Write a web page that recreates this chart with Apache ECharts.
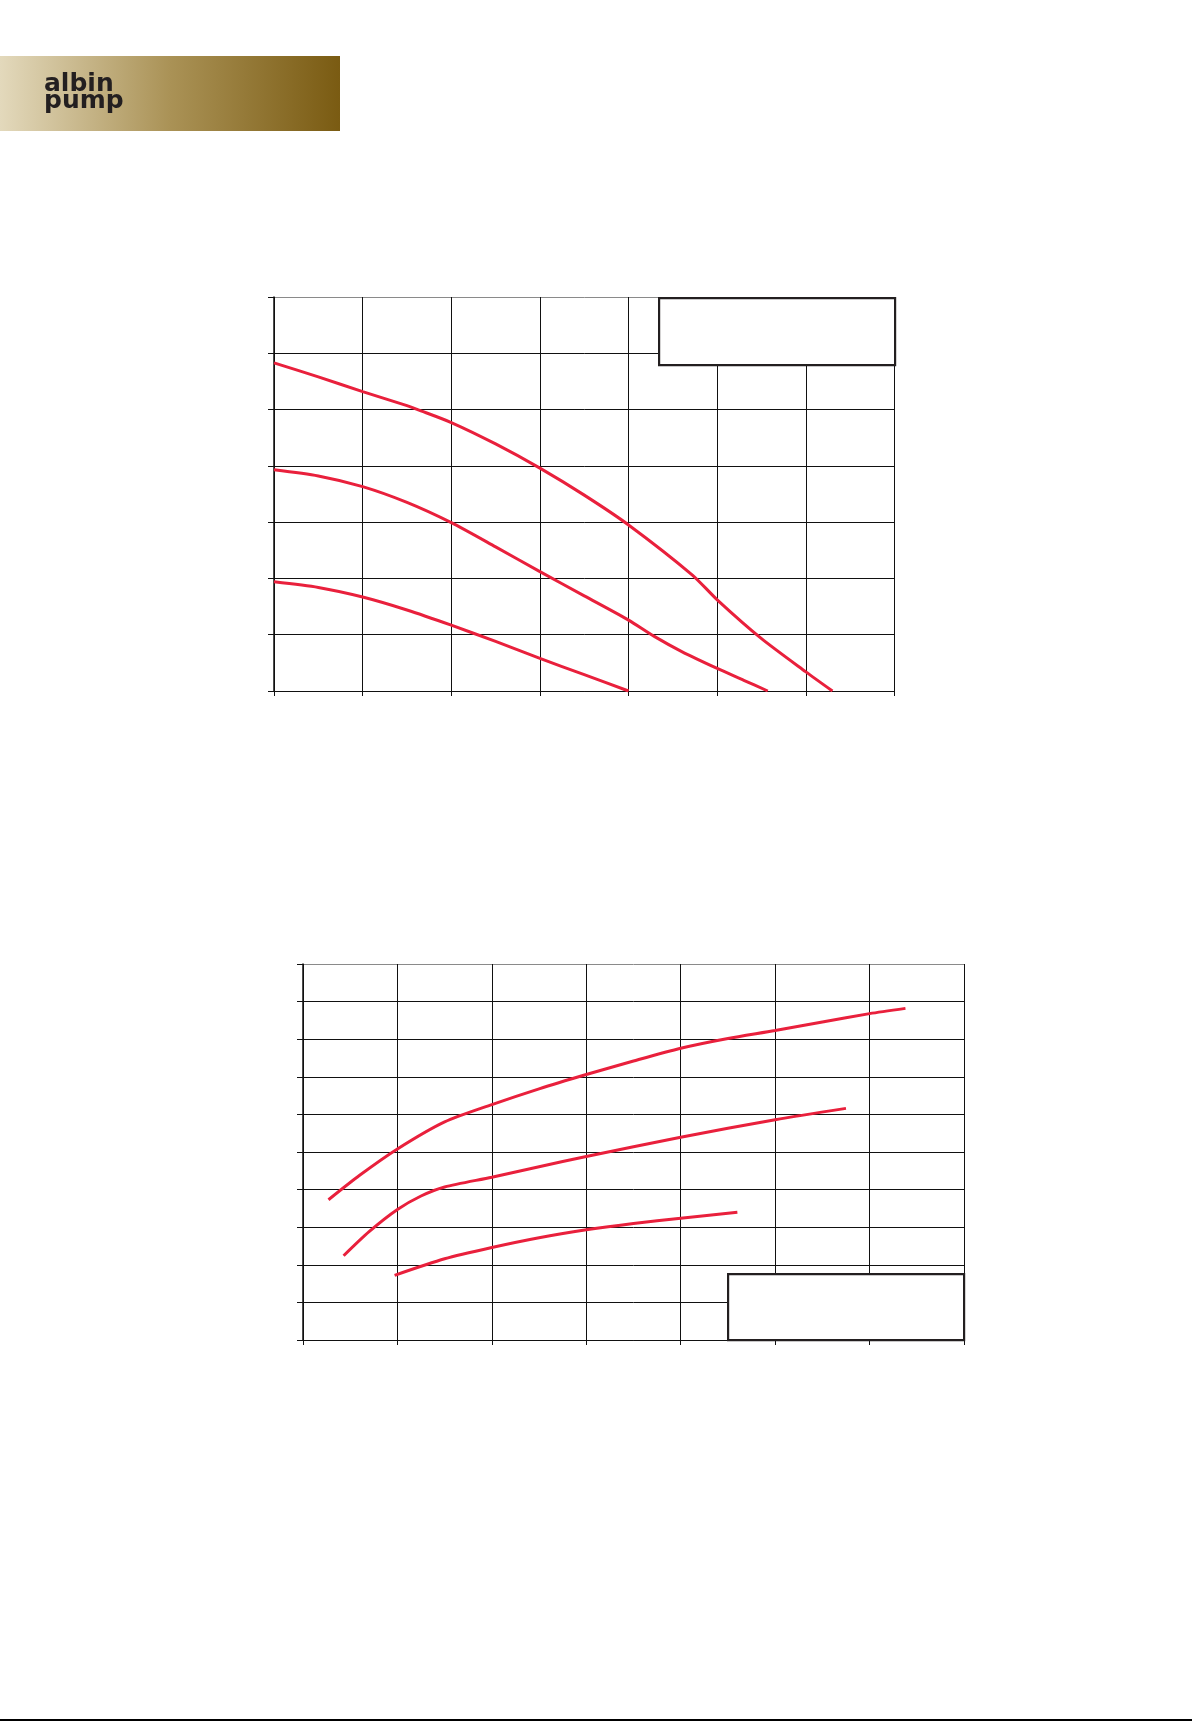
<!DOCTYPE html>
<html>
<head>
<meta charset="utf-8">
<style>
html,body{margin:0;padding:0;background:#fff;}
#chart{width:1192px;height:1721px;}
</style>
<script src="https://cdn.jsdelivr.net/npm/echarts@6/dist/echarts.min.js"></script>
</head>
<body>
<div id="chart"></div>
<script>
// ---- Data (grid units; axes carry no printed labels) ----
var xTicksTop = [0, 1, 2, 3, 4, 5, 6, 7];
var yTicksTop = [0, 1, 2, 3, 4, 5, 6, 7];
var xTicksBottom = [0, 1, 2, 3, 4, 5, 6, 7];
var yTicksBottom = [0, 1, 2, 3, 4, 5, 6, 7, 8, 9, 10];

// Upper chart: three falling curves
var topCurve1 = [[0,5.83],[0.5,5.58],[1,5.32],[1.5,5.07],[1.62,5.0],[2,4.77],[2.5,4.39],[3,3.96],[3.5,3.48],[4,2.95],[4.72,2.06],[5,1.62],[5.5,0.93],[6,0.34],[6.30,0]];
var topCurve2 = [[0,3.93],[0.5,3.82],[1,3.63],[1.5,3.35],[2,2.99],[2.5,2.56],[3,2.12],[3.5,1.69],[4,1.26],[4.29,0.97],[4.6,0.70],[5,0.40],[5.3,0.19],[5.57,0]];
var topCurve3 = [[0,1.94],[0.5,1.84],[1,1.67],[1.5,1.44],[2,1.17],[2.5,0.88],[3,0.58],[3.5,0.29],[4,0]];

// Lower chart: three rising curves
var bottomCurve1 = [[0.27,3.73],[0.6,4.38],[1,5.08],[1.5,5.80],[2,6.26],[2.5,6.68],[3,7.06],[3.5,7.42],[4,7.76],[4.5,8.02],[5,8.23],[5.5,8.46],[6,8.68],[6.38,8.82]];
var bottomCurve2 = [[0.43,2.24],[0.7,2.88],[1,3.47],[1.25,3.83],[1.5,4.07],[2,4.33],[2.5,4.61],[3,4.88],[4,5.39],[5,5.86],[5.75,6.16]];
var bottomCurve3 = [[0.97,1.72],[1.5,2.16],[2,2.46],[2.5,2.72],[3,2.93],[3.5,3.10],[4,3.24],[4.6,3.40]];

var RED = '#e9203c';
var INK = '#111111';

function splitColors(n) {
  var arr = [];
  for (var i = 0; i < n; i++) arr.push(i === n - 1 ? '#8a8a8a' : INK);
  return arr;
}
function xAx(gridIndex, ticks) {
  return {
    type: 'value', gridIndex: gridIndex,
    min: ticks[0], max: ticks[ticks.length - 1], interval: ticks[1] - ticks[0],
    axisLine: { show: true, onZero: false, lineStyle: { color: INK, width: 1 } },
    axisTick: { show: true, inside: false, length: 5, lineStyle: { color: INK, width: 1 } },
    axisLabel: { show: false },
    splitLine: { show: true, lineStyle: { color: INK, width: 1 } }
  };
}
function yAx(gridIndex, ticks) {
  return {
    type: 'value', gridIndex: gridIndex,
    min: ticks[0], max: ticks[ticks.length - 1], interval: ticks[1] - ticks[0],
    axisLine: { show: true, onZero: false, lineStyle: { color: INK, width: 1.5 } },
    axisTick: { show: true, inside: false, length: 6, lineStyle: { color: INK, width: 1 } },
    axisLabel: { show: false },
    splitLine: { show: true, lineStyle: { color: splitColors(ticks.length), width: 1 } }
  };
}
function curve(data, xi, yi) {
  return {
    type: 'line', xAxisIndex: xi, yAxisIndex: yi, data: data,
    smooth: 0.25, showSymbol: false, symbol: 'none', silent: true,
    lineStyle: { color: RED, width: 3, cap: 'butt' }, z: 5
  };
}

var chart = echarts.init(document.getElementById('chart'), null, { renderer: 'canvas', width: 1192, height: 1721 });

chart.setOption({
  animation: false,
  backgroundColor: '#ffffff',
  grid: [
    { left: 274, top: 297, width: 620.5, height: 394, outerBoundsMode: 'none', containLabel: false },
    { left: 303, top: 964, width: 661, height: 376, outerBoundsMode: 'none', containLabel: false }
  ],
  xAxis: [ xAx(0, xTicksTop), xAx(1, xTicksBottom) ],
  yAxis: [ yAx(0, yTicksTop), yAx(1, yTicksBottom) ],
  series: [
    curve(topCurve1, 0, 0), curve(topCurve2, 0, 0), curve(topCurve3, 0, 0),
    curve(bottomCurve1, 1, 1), curve(bottomCurve2, 1, 1), curve(bottomCurve3, 1, 1)
  ],
  graphic: [
    // logo band
    { type: 'rect', left: 0, top: 56, z: 10, silent: true,
      shape: { width: 340, height: 75 },
      style: { fill: { type: 'linear', x: 0, y: 0, x2: 1, y2: 0,
        colorStops: [ { offset: 0, color: '#e3d9bc' }, { offset: 0.5, color: '#aa9256' }, { offset: 1, color: '#7a5b12' } ] } } },
    { type: 'text', x: 44, y: 84.5, z: 11, silent: true,
      style: { text: 'albin', font: 'bold 25px "DejaVu Sans"', fill: '#231f20', verticalAlign: 'middle', align: 'left' } },
    { type: 'text', x: 44, y: 101.5, z: 11, silent: true,
      style: { text: 'pump', font: 'bold 25px "DejaVu Sans"', fill: '#231f20', verticalAlign: 'middle', align: 'left' } },
    // empty legend boxes
    { type: 'rect', left: 658, top: 297, z: 20, silent: true,
      shape: { width: 236, height: 67 },
      style: { fill: '#ffffff', stroke: '#231f20', lineWidth: 2.2 } },
    { type: 'rect', left: 727, top: 1273, z: 20, silent: true,
      shape: { width: 236, height: 66 },
      style: { fill: '#ffffff', stroke: '#231f20', lineWidth: 2.2 } },
    // page rule at the very bottom
    { type: 'rect', left: 0, top: 1719, z: 10, silent: true,
      shape: { width: 1192, height: 2 }, style: { fill: '#000000' } }
  ]
});
</script>
</body>
</html>
